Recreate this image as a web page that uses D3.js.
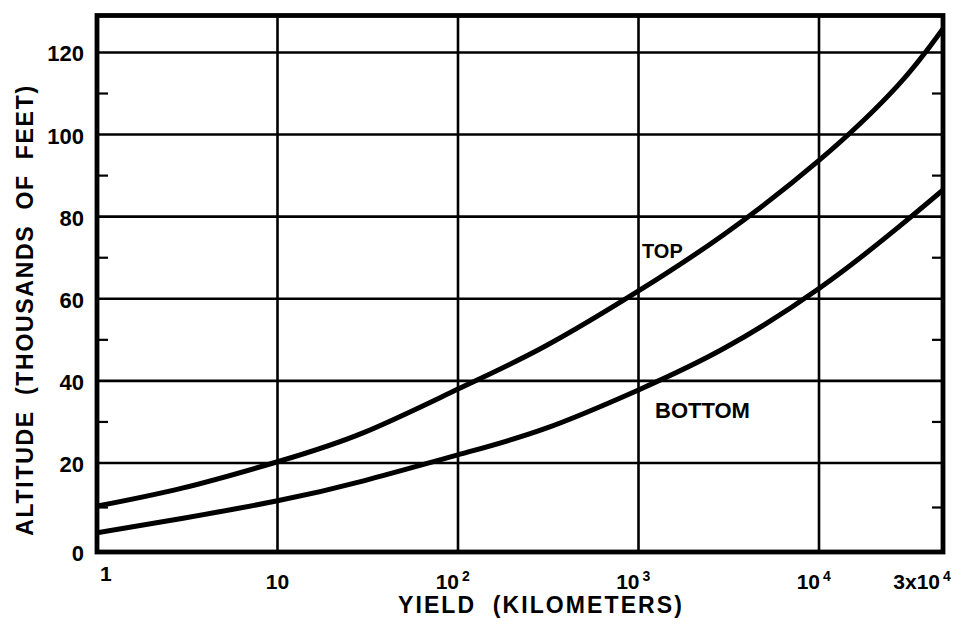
<!DOCTYPE html>
<html>
<head>
<meta charset="utf-8">
<script src="https://cdn.jsdelivr.net/npm/d3@7"></script>
<style>
  html, body { margin: 0; padding: 0; background: #fff; }
  svg { display: block; }
  text { font-family: "Liberation Sans", Arial, Helvetica, sans-serif; font-weight: bold; fill: #000; }
</style>
</head>
<body>
<svg id="chart" width="956" height="624"></svg>
<script>
// Yield (x) and the altitude of the cloud top and bottom, in thousands of feet
const yields         = [1, 3, 10, 30, 100, 300, 1000, 3000, 10000, 20000, 30000];
const topAltitude    = [10.3, 14.4, 20.3, 27.4, 38.0, 48.3, 61.9, 75.8, 93.7, 111.8, 125.8];
const bottomAltitude = [4.3, 7.6, 11.5, 16.0, 22.0, 28.3, 37.8, 48.0, 62.5, 77.2, 86.5];

// Axis ticks and labels
const yMajorTicks = [0, 20, 40, 60, 80, 100, 120];
const yMinorTicks = [10, 30, 50, 70, 90, 110];
const xGridValues = [10, 100, 1000, 10000];
const xTickValues = [1, 10, 100, 1000, 10000, 30000];
const xTickBase   = ["1", "10", "10", "10", "10", "3x10"];
const xTickExp    = ["", "", "2", "3", "4", "4"];

const curveLabels = ["TOP", "BOTTOM"];

const svg = d3.select("#chart");

// Log scale for yield; the last segment (10^4 to 3x10^4) runs to the right frame edge
const x = d3.scaleLog().domain([1, 1e4, 3e4]).range([97, 819, 943]);
const y = d3.scaleLinear().domain([0, 20, 129]).range([552, 463, 15.5]);

const [x0, x1] = [x(1), x(3e4)];
const [yB, yT] = [y(0), y(129)];

// Grid lines
svg.append("g").selectAll("line").data(yMajorTicks.filter(d => d > 0)).join("line")
  .attr("x1", x0).attr("x2", x1)
  .attr("y1", d => y(d)).attr("y2", d => y(d))
  .attr("stroke", "#000").attr("stroke-width", 2.6);

svg.append("g").selectAll("line").data(xGridValues).join("line")
  .attr("x1", d => x(d)).attr("x2", d => x(d))
  .attr("y1", yB).attr("y2", yT)
  .attr("stroke", "#000").attr("stroke-width", 2.6);

// Minor ticks pointing inward on both sides
const minor = svg.append("g");
minor.selectAll("line.l").data(yMinorTicks).join("line").attr("class", "l")
  .attr("x1", x0).attr("x2", x0 + 11)
  .attr("y1", d => y(d)).attr("y2", d => y(d))
  .attr("stroke", "#000").attr("stroke-width", 2.2);
minor.selectAll("line.r").data(yMinorTicks).join("line").attr("class", "r")
  .attr("x1", x1 - 11).attr("x2", x1)
  .attr("y1", d => y(d)).attr("y2", d => y(d))
  .attr("stroke", "#000").attr("stroke-width", 2.2);

// Curves
svg.append("clipPath").attr("id", "plot")
  .append("rect").attr("x", x0).attr("y", yT).attr("width", x1 - x0).attr("height", yB - yT);

const line = d3.line()
  .x(d => x(d[0])).y(d => y(d[1]))
  .curve(d3.curveNatural);

const series = [d3.zip(yields, topAltitude), d3.zip(yields, bottomAltitude)];
svg.append("g").attr("clip-path", "url(#plot)")
  .selectAll("path").data(series).join("path")
  .attr("d", line)
  .attr("fill", "none").attr("stroke", "#000")
  .attr("stroke-width", 5).attr("stroke-linecap", "round");

// Frame
svg.append("rect")
  .attr("x", x0).attr("y", yT).attr("width", x1 - x0).attr("height", yB - yT)
  .attr("fill", "none").attr("stroke", "#000").attr("stroke-width", 4.8);

// Y tick labels
svg.append("g").selectAll("text").data(yMajorTicks).join("text")
  .attr("x", 84).attr("y", d => y(d) + 9)
  .attr("text-anchor", "end")
  .attr("font-size", 22)
  .text(d => d);

// X tick labels with exponents
const xl = svg.append("g");
xTickValues.forEach((v, i) => {
  const px = x(v);
  if (i === 0) {
    xl.append("text").attr("x", px + 3).attr("y", 581)
      .attr("font-size", 21).text(xTickBase[i]);
  } else if (!xTickExp[i]) {
    xl.append("text").attr("x", px).attr("y", 589)
      .attr("text-anchor", "middle").attr("font-size", 21).text(xTickBase[i]);
  } else {
    const endX = i === xTickValues.length - 1 ? px - 3 : px + 1;
    xl.append("text").attr("x", endX).attr("y", 589)
      .attr("text-anchor", "end").attr("font-size", 21).text(xTickBase[i]);
    xl.append("text").attr("x", endX + 3).attr("y", 581)
      .attr("font-size", 14).text(xTickExp[i]);
  }
});

// Axis titles
svg.append("text")
  .attr("x", 541).attr("y", 613)
  .attr("text-anchor", "middle")
  .attr("font-size", 23).attr("letter-spacing", 2.1).attr("word-spacing", 8)
  .text("YIELD (KILOMETERS)");

svg.append("text")
  .attr("transform", "translate(33,310) rotate(-90)")
  .attr("text-anchor", "middle")
  .attr("font-size", 23).attr("letter-spacing", 1.7).attr("word-spacing", 7)
  .text("ALTITUDE (THOUSANDS OF FEET)");

// Curve labels
svg.append("text").attr("x", 642).attr("y", 258).attr("font-size", 20).text(curveLabels[0]);
svg.append("text").attr("x", 655).attr("y", 418).attr("font-size", 22).text(curveLabels[1]);
</script>
</body>
</html>
